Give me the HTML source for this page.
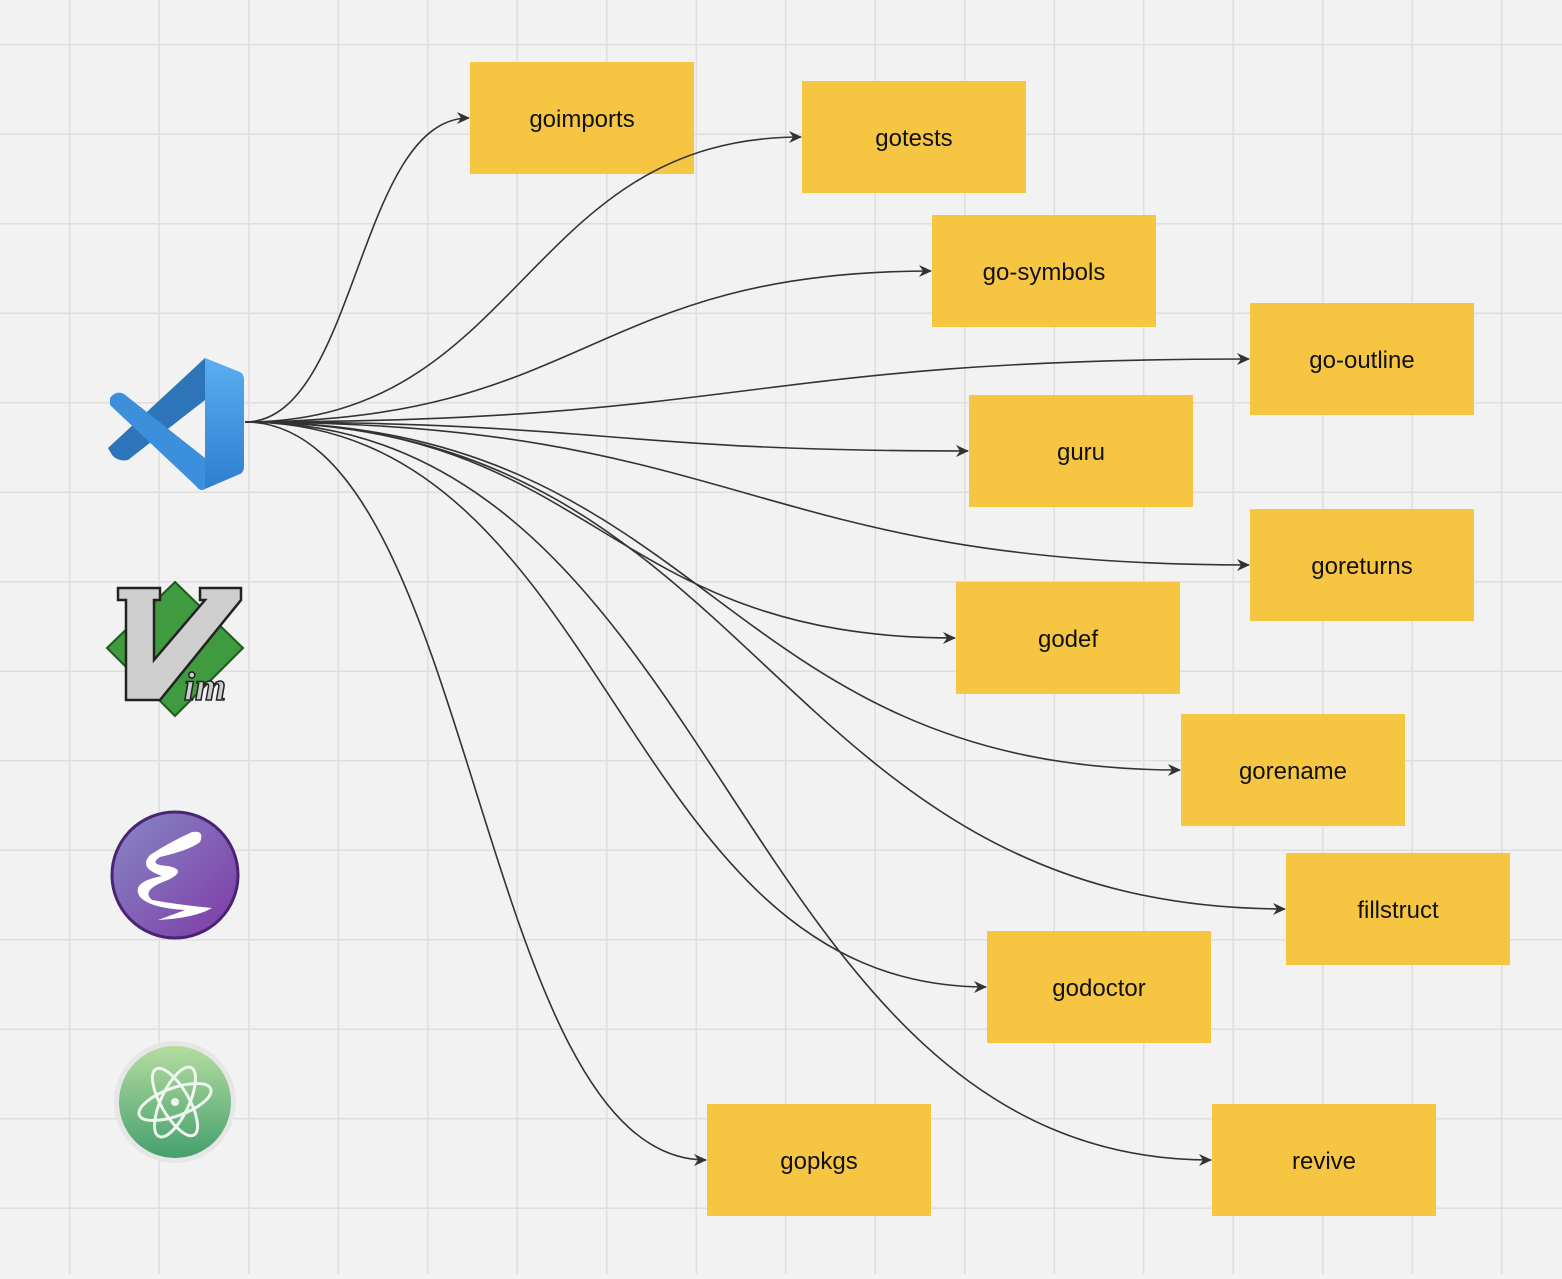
<!DOCTYPE html>
<html><head><meta charset="utf-8"><style>
html,body{margin:0;padding:0;}
body{width:1562px;height:1274px;overflow:hidden;background:#f2f2f2;font-family:"Liberation Sans",sans-serif;}
</style></head><body>
<svg width="1562" height="1274" viewBox="0 0 1562 1274" xmlns="http://www.w3.org/2000/svg">
<defs>
<pattern id="g" x="69" y="44" width="89.5" height="89.5" patternUnits="userSpaceOnUse">
<path d="M0 0H89.5M0 0V89.5" stroke="#dedede" stroke-width="3" fill="none"/>
</pattern>
<marker id="a" markerWidth="16" markerHeight="16" refX="14" refY="8" orient="auto" markerUnits="userSpaceOnUse">
<path d="M2 2 L15 8 L2 14 L6 8 Z" fill="#333"/>
</marker>
<linearGradient id="vs" x1="0" y1="0" x2="0" y2="1"><stop offset="0" stop-color="#5aaef0"/><stop offset="1" stop-color="#2f7ed0"/></linearGradient>
<linearGradient id="em" x1="0" y1="0" x2="1" y2="1"><stop offset="0" stop-color="#8688c4"/><stop offset="1" stop-color="#7f3aa8"/></linearGradient>
<linearGradient id="at" x1="0" y1="0" x2="0" y2="1"><stop offset="0" stop-color="#b4dca0"/><stop offset="1" stop-color="#45a06e"/></linearGradient>
</defs>
<rect width="1562" height="1274" fill="url(#g)"/>
<g fill="#f6c643">
<rect x="470" y="62" width="224" height="112"/>
<rect x="802" y="81" width="224" height="112"/>
<rect x="932" y="215" width="224" height="112"/>
<rect x="1250" y="303" width="224" height="112"/>
<rect x="969" y="395" width="224" height="112"/>
<rect x="1250" y="509" width="224" height="112"/>
<rect x="956" y="582" width="224" height="112"/>
<rect x="1181" y="714" width="224" height="112"/>
<rect x="1286" y="853" width="224" height="112"/>
<rect x="987" y="931" width="224" height="112"/>
<rect x="707" y="1104" width="224" height="112"/>
<rect x="1212" y="1104" width="224" height="112"/>
</g>
<g fill="none" stroke="#333" stroke-width="1.6" marker-end="url(#a)">
<path d="M245 422 C357 422 357 118 469 118"/>
<path d="M245 422 C523 422 523 137 801 137"/>
<path d="M245 422 C588 422 588 271 931 271"/>
<path d="M245 422 C747 422 747 359 1249 359"/>
<path d="M245 422 C606 422 606 451 968 451"/>
<path d="M245 422 C747 422 747 565 1249 565"/>
<path d="M245 422 C600 422 600 638 955 638"/>
<path d="M245 422 C712 422 712 770 1180 770"/>
<path d="M245 422 C765 422 765 909 1285 909"/>
<path d="M245 422 C615 422 615 987 986 987"/>
<path d="M245 422 C476 422 476 1160 706 1160"/>
<path d="M245 422 C728 422 728 1160 1211 1160"/>
</g>
<g font-size="24" fill="#111" text-anchor="middle" font-family="Liberation Sans, sans-serif">
<text x="582" y="127">goimports</text>
<text x="914" y="146">gotests</text>
<text x="1044" y="280">go-symbols</text>
<text x="1362" y="368">go-outline</text>
<text x="1081" y="460">guru</text>
<text x="1362" y="574">goreturns</text>
<text x="1068" y="647">godef</text>
<text x="1293" y="779">gorename</text>
<text x="1398" y="918">fillstruct</text>
<text x="1099" y="996">godoctor</text>
<text x="819" y="1169">gopkgs</text>
<text x="1324" y="1169">revive</text>
</g>
<!-- VS Code -->
<g>
<path d="M205 358 L240 372 Q244 374 244 380 L244 466 Q244 472 240 474 L205 489 L205 358Z" fill="url(#vs)"/>
<path d="M205 358 L205 400 L128 460 Q118 462 112 455 L108 448 Z" fill="#2e74b8"/>
<path d="M110 398 Q116 390 124 394 L205 458 L205 489 Q200 492 196 486 L110 405Z" fill="#3b8fdb"/>
</g>
<!-- Vim -->
<g>
<polygon points="175,582 243,648 175,716 107,648" fill="#3f9a40" stroke="#1d5a1f" stroke-width="2"/>
<path d="M118 588 L160 588 L160 600 L154 600 L154 660 L205 600 L200 600 L200 588 L241 588 L241 600 L160 700 L126 700 L126 600 L118 600 Z" fill="#cfcfcf" stroke="#222" stroke-width="2.5"/>
<text x="205" y="700" font-size="40" font-style="italic" font-weight="bold" font-family="Liberation Serif, serif" fill="#ccc" stroke="#222" stroke-width="1.5" text-anchor="middle">im</text>
</g>
<!-- Emacs -->
<g>
<circle cx="175" cy="875" r="63" fill="url(#em)" stroke="#4a2470" stroke-width="3"/>
<path d="M192 832 Q205 830 200 842 Q190 850 160 857 Q148 865 168 866 Q188 870 168 880 Q140 890 152 900 Q180 905 212 908 Q195 918 158 920 Q180 912 185 910 Q150 908 140 897 Q130 882 162 876 Q138 868 150 855 Q170 842 192 832Z" fill="#fff"/>
</g>
<!-- Atom -->
<g>
<circle cx="175" cy="1102" r="61" fill="#e6e6e6"/>
<circle cx="175" cy="1102" r="56" fill="url(#at)"/>
<g fill="none" stroke="#eef6ee" stroke-width="3">
<ellipse cx="175" cy="1102" rx="38" ry="14" transform="rotate(-20 175 1102)"/>
<ellipse cx="175" cy="1102" rx="38" ry="14" transform="rotate(60 175 1102)"/>
<ellipse cx="175" cy="1102" rx="38" ry="14" transform="rotate(115 175 1102)"/>
</g>
<circle cx="175" cy="1102" r="4" fill="#eef6ee"/>
</g>
</svg>
</body></html>
